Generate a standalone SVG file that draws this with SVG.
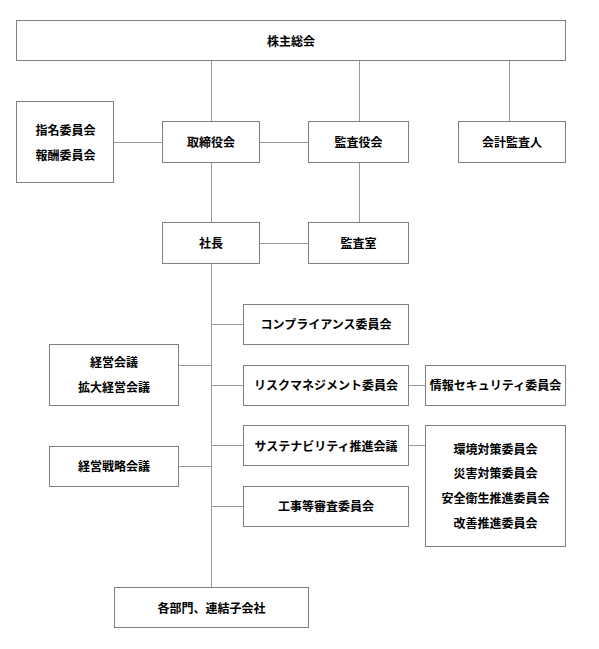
<svg xmlns="http://www.w3.org/2000/svg" width="599" height="649" viewBox="0 0 599 649">
<style>
.box{fill:#ffffff;stroke:#808080;stroke-width:1}
.ln{stroke:#999999;stroke-width:1;fill:none}
text{font-family:"Noto Sans CJK JP","Noto Sans",sans-serif;font-size:12px;font-weight:bold;fill:#000000;text-anchor:middle}
</style>
<rect width="599" height="649" fill="#ffffff"/>
<g id="connectors">
<line class="ln" x1="211.5" y1="61" x2="211.5" y2="122"/>
<line class="ln" x1="359.5" y1="61" x2="359.5" y2="122"/>
<line class="ln" x1="509.5" y1="61" x2="509.5" y2="122"/>
<line class="ln" x1="114" y1="142.5" x2="162" y2="142.5"/>
<line class="ln" x1="260" y1="142.5" x2="308" y2="142.5"/>
<line class="ln" x1="359.5" y1="163" x2="359.5" y2="223"/>
<line class="ln" x1="211.5" y1="163" x2="211.5" y2="223"/>
<line class="ln" x1="260" y1="243.5" x2="308" y2="243.5"/>
<line class="ln" x1="211.5" y1="264" x2="211.5" y2="588"/>
<line class="ln" x1="211" y1="324.5" x2="243" y2="324.5"/>
<line class="ln" x1="211" y1="385.5" x2="243" y2="385.5"/>
<line class="ln" x1="211" y1="445.5" x2="243" y2="445.5"/>
<line class="ln" x1="211" y1="506.5" x2="243" y2="506.5"/>
<line class="ln" x1="179" y1="365.5" x2="211" y2="365.5"/>
<line class="ln" x1="179" y1="466.5" x2="211" y2="466.5"/>
<line class="ln" x1="409" y1="385.5" x2="425" y2="385.5"/>
<line class="ln" x1="409" y1="445.5" x2="425" y2="445.5"/>
</g>
<g id="n-kabunushi"><rect class="box" x="16.5" y="20.5" width="549" height="40"/><text x="291" y="45.5">株主総会</text></g>
<g id="n-shimei"><rect class="box" x="16.5" y="101.5" width="97" height="81"/><text x="65.5" y="134.5">指名委員会</text><text x="65.5" y="159.5">報酬委員会</text></g>
<g id="n-torishimari"><rect class="box" x="162.5" y="121.5" width="97" height="41"/><text x="211" y="147">取締役会</text></g>
<g id="n-kansayaku"><rect class="box" x="308.5" y="121.5" width="100" height="41"/><text x="358.5" y="147">監査役会</text></g>
<g id="n-kaikei"><rect class="box" x="458.5" y="121.5" width="107" height="41"/><text x="512" y="147">会計監査人</text></g>
<g id="n-shacho"><rect class="box" x="162.5" y="222.5" width="97" height="41"/><text x="211" y="248">社長</text></g>
<g id="n-kansashitsu"><rect class="box" x="308.5" y="222.5" width="100" height="41"/><text x="358.5" y="248">監査室</text></g>
<g id="n-compliance"><rect class="box" x="243.5" y="304.5" width="165" height="40"/><text x="326" y="329">コンプライアンス委員会</text></g>
<g id="n-risk"><rect class="box" x="243.5" y="365.5" width="165" height="40"/><text x="326" y="390">リスクマネジメント委員会</text></g>
<g id="n-sustain"><rect class="box" x="243.5" y="425.5" width="165" height="40"/><text x="326" y="450.5">サステナビリティ推進会議</text></g>
<g id="n-koji"><rect class="box" x="243.5" y="486.5" width="165" height="40"/><text x="326" y="511">工事等審査委員会</text></g>
<g id="n-joho"><rect class="box" x="425.5" y="365.5" width="140" height="40"/><text x="495.5" y="390">情報セキュリティ委員会</text></g>
<g id="n-kankyo"><rect class="box" x="425.5" y="425.5" width="140" height="121"/><text x="495.5" y="453.5">環境対策委員会</text><text x="495.5" y="478">災害対策委員会</text><text x="495.5" y="502.5">安全衛生推進委員会</text><text x="495.5" y="527.5">改善推進委員会</text></g>
<g id="n-keiei"><rect class="box" x="49.5" y="344.5" width="129" height="61"/><text x="114" y="367">経営会議</text><text x="114" y="392">拡大経営会議</text></g>
<g id="n-senryaku"><rect class="box" x="49.5" y="446.5" width="129" height="40"/><text x="114" y="471">経営戦略会議</text></g>
<g id="n-kakubumon"><rect class="box" x="114.5" y="587.5" width="194" height="40"/><text x="211.5" y="612.5">各部門、連結子会社</text></g>
</svg>
